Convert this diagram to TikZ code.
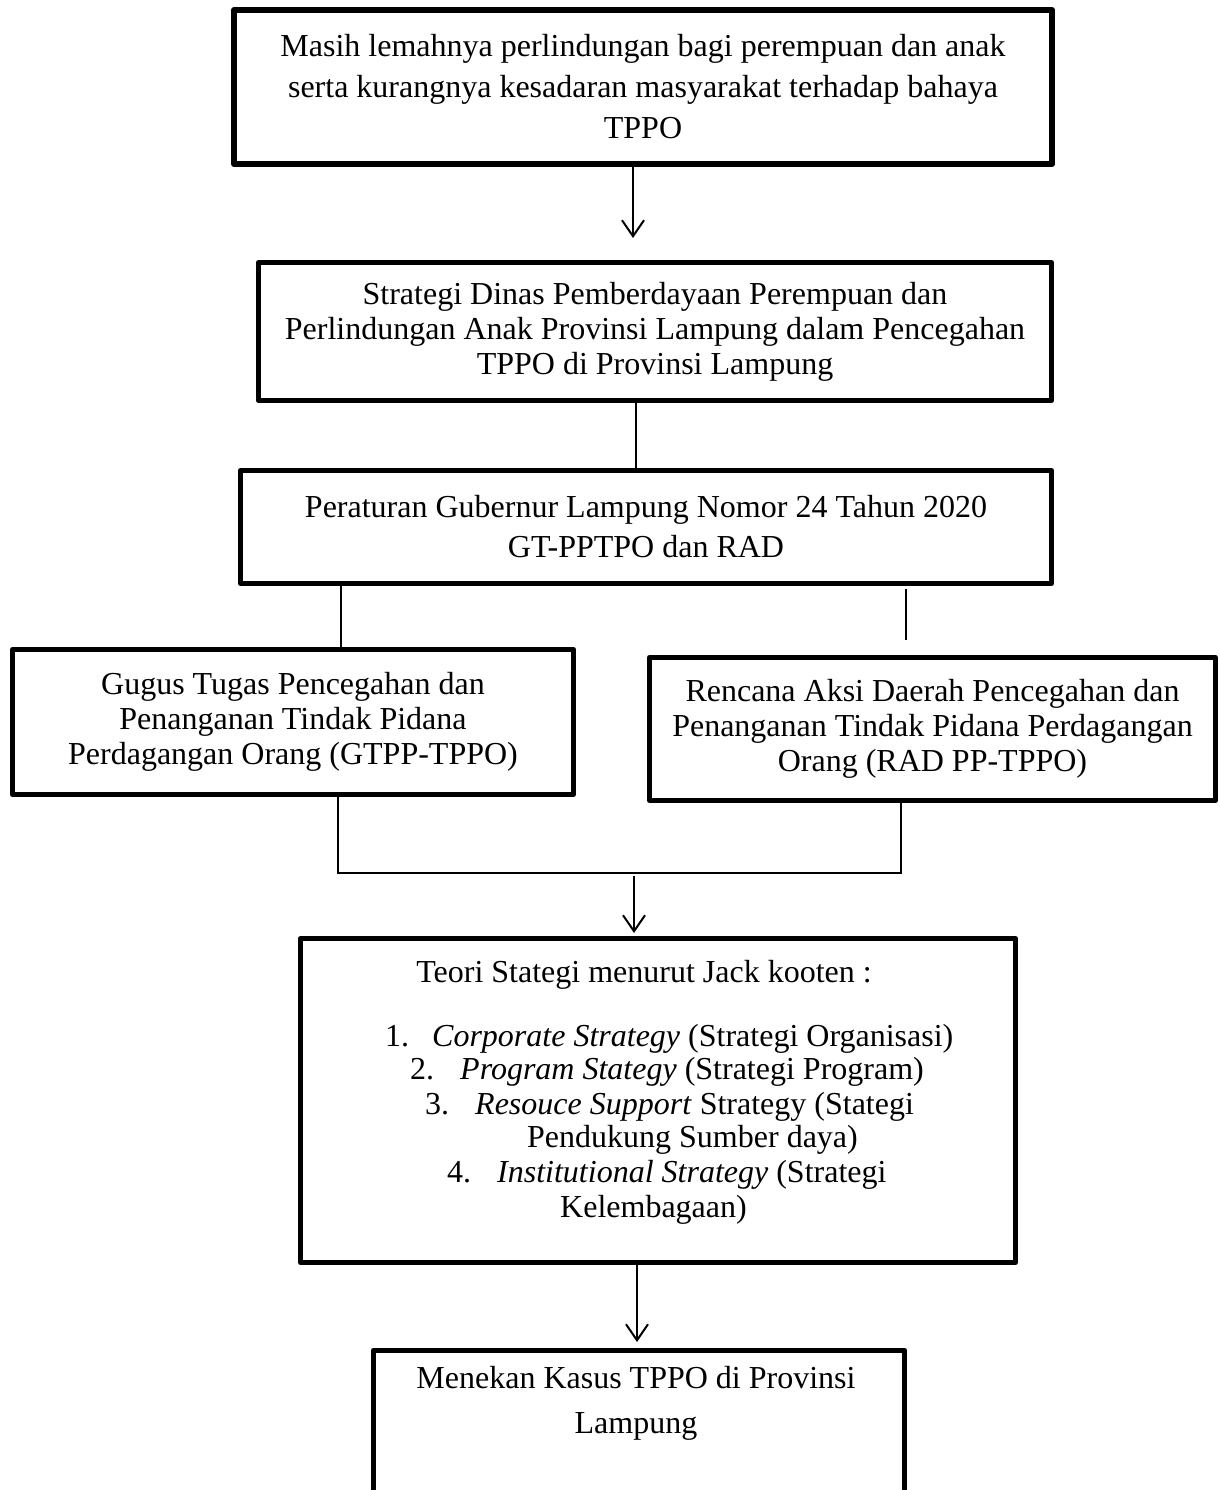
\documentclass[tikz,border=0pt]{standalone}
\usepackage{fontspec}
\setmainfont{Liberation Serif}
\usetikzlibrary{arrows.meta}
\begin{document}
\begin{tikzpicture}[x=1pt,y=-1pt,
  box/.style={draw, rectangle, line width=5pt, line join=round, align=center, inner sep=0pt,
    font=\fontsize{32}{35}\selectfont},
  conn/.style={line width=2pt},
  arr/.style={line width=2pt, -{Straight Barb[length=16pt,width=22pt]}},
  txt/.style={inner sep=0pt, font=\fontsize{32}{35}\selectfont, execute at begin node=\strut}]
\clip (0,0) rectangle (1219,1490);
\fill[white] (0,0) rectangle (1219,1490);

% boxes
\node[box, line width=6pt, minimum width=818pt, minimum height=154pt,
  font=\fontsize{32}{41}\selectfont] (b1) at (643,87)
  {Masih lemahnya perlindungan bagi perempuan dan anak\\serta kurangnya kesadaran masyarakat terhadap bahaya\\TPPO};
\node[box, minimum width=793pt, minimum height=138pt] (b2) at (655,331.5)
  {Strategi Dinas Pemberdayaan Perempuan dan\\Perlindungan Anak Provinsi Lampung dalam Pencegahan\\TPPO di Provinsi Lampung};
\node[box, minimum width=811pt, minimum height=113pt, font=\fontsize{32}{40}\selectfont] (b3) at (646,527)
  {Peraturan Gubernur Lampung Nomor 24 Tahun 2020\\GT-PPTPO dan RAD};
\node[box, minimum width=561pt, minimum height=145pt] (b4) at (293,722)
  {Gugus Tugas Pencegahan dan\\Penanganan Tindak Pidana\\Perdagangan Orang (GTPP-TPPO)};
\node[box, minimum width=566pt, minimum height=143pt] (b5) at (932.5,729)
  {Rencana Aksi Daerah Pencegahan dan\\Penanganan Tindak Pidana Perdagangan\\Orang (RAD PP-TPPO)};
\node[box, minimum width=715pt, minimum height=324pt] (b6) at (658,1100.5) {};
\node[minimum width=531pt, minimum height=200pt, inner sep=0pt] (b7) at (639,1450.5) {};
\draw[line width=5pt, line join=round] (b7.south west) -- (b7.north west) -- (b7.north east) -- (b7.south east);

% box 6 text
\node[txt] (h6) at (644,975) {Teori Stategi menurut Jack kooten :};
\node[txt, anchor=west] (l1) at (385,1039) {\makebox[47pt][l]{1.}\textit{Corporate Strategy} (Strategi Organisasi)};
\node[txt, anchor=west] (l2) at (410,1072) {\makebox[50pt][l]{2.}\textit{Program Stategy} (Strategi Program)};
\node[txt, anchor=west] (l3) at (425,1107) {\makebox[50pt][l]{3.}\textit{Resouce Support} Strategy (Stategi};
\node[txt, anchor=west] (l4) at (527,1140) {Pendukung Sumber daya)};
\node[txt, anchor=west] (l5) at (447,1175) {\makebox[50pt][l]{4.}\textit{Institutional Strategy} (Strategi};
\node[txt, anchor=west] (l6) at (560,1210) {Kelembagaan)};

% box 7 text
\node[txt, align=center, font=\fontsize{32}{45}\selectfont, execute at begin node={}] (t7) at (636,1407)
  {Menekan Kasus TPPO di Provinsi\\Lampung};

% connector coordinates
\coordinate (a1) at (633,238);
\coordinate (c23) at (636,0);
\coordinate (c34) at (341,0);
\coordinate (r1) at (906,640);
\coordinate (k1) at (338,873);
\coordinate (k2) at (901,873);
\coordinate (a2s) at (634,876);
\coordinate (a2e) at (634,933);
\coordinate (a3) at (637,1342);

% connectors
\draw[arr] (b1.south -| a1) -- (a1);
\draw[conn] (b2.south -| c23) -- (b3.north -| c23);
\draw[conn] (b3.south -| c34) -- (b4.north -| c34);
\draw[conn] (b3.south -| r1) ++(0,3) -- (r1);
\draw[conn] (b4.south -| k1) -- (k1) -- (k2) -- (b5.south -| k2);
\draw[arr] (a2s) -- (a2e);
\draw[arr] (b6.south -| a3) -- (a3);
\end{tikzpicture}
\end{document}
